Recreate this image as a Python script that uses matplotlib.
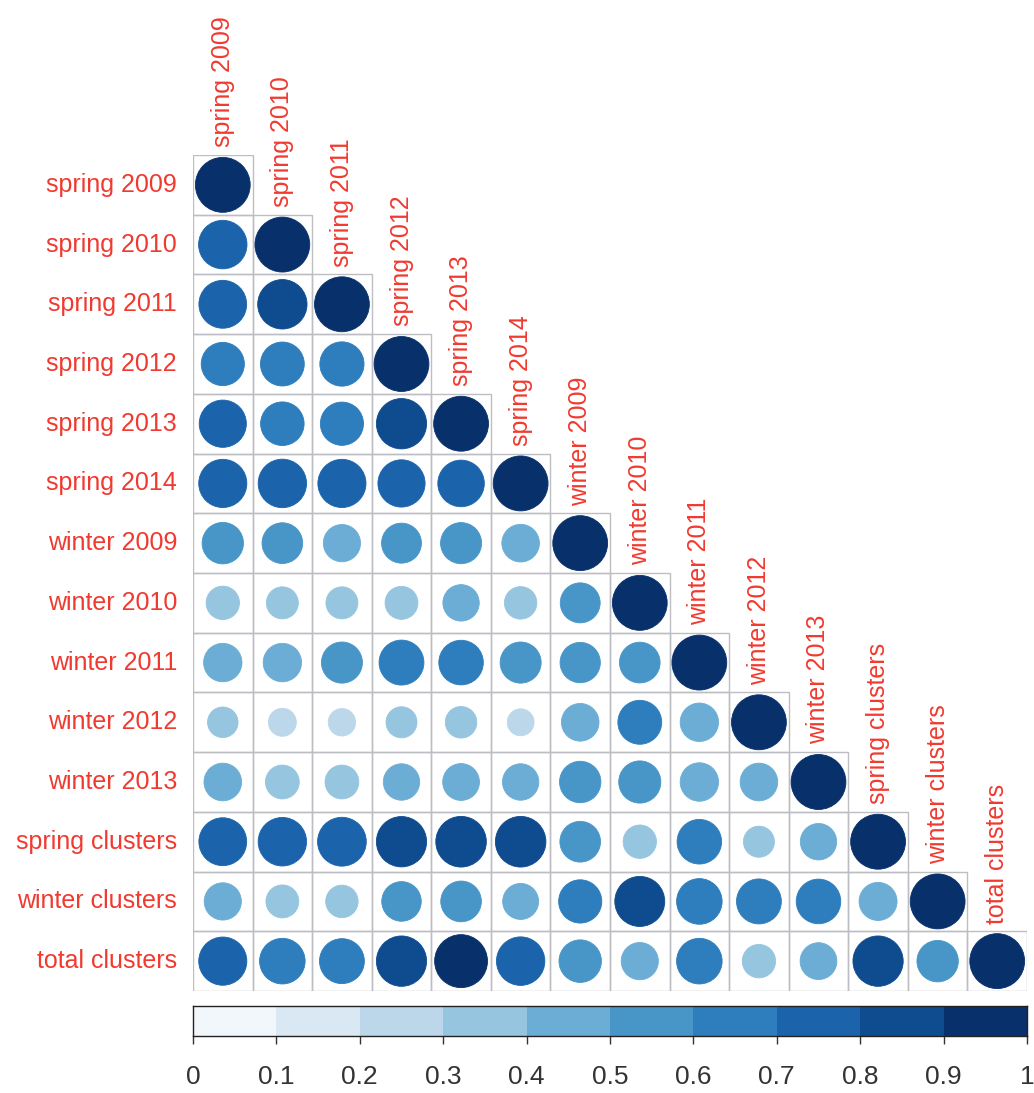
import numpy as np
import matplotlib
matplotlib.use("Agg")
import matplotlib.pyplot as plt
from matplotlib.patches import Circle, Rectangle
from matplotlib.colors import ListedColormap, BoundaryNorm

# Variables (same order for rows and columns)
labels = ["spring 2009", "spring 2010", "spring 2011", "spring 2012",
          "spring 2013", "spring 2014", "winter 2009", "winter 2010",
          "winter 2011", "winter 2012", "winter 2013", "spring clusters",
          "winter clusters", "total clusters"]

# Lower-triangle correlations, one list per row (diagonal included)
r_spring_2009 = [1.00]
r_spring_2010 = [0.78, 1.00]
r_spring_2011 = [0.76, 0.81, 1.00]
r_spring_2012 = [0.62, 0.64, 0.65, 1.00]
r_spring_2013 = [0.74, 0.63, 0.62, 0.84, 1.00]
r_spring_2014 = [0.77, 0.78, 0.77, 0.74, 0.72, 1.00]
r_winter_2009 = [0.57, 0.55, 0.46, 0.53, 0.56, 0.47, 1.00]
r_winter_2010 = [0.37, 0.34, 0.34, 0.36, 0.44, 0.35, 0.53, 1.00]
r_winter_2011 = [0.49, 0.49, 0.56, 0.67, 0.66, 0.56, 0.54, 0.55, 1.00]
r_winter_2012 = [0.31, 0.26, 0.25, 0.32, 0.33, 0.24, 0.47, 0.64, 0.49, 1.00]
r_winter_2013 = [0.47, 0.38, 0.38, 0.44, 0.45, 0.44, 0.57, 0.59, 0.49, 0.47, 1.00]
r_spring_clusters = [0.76, 0.78, 0.79, 0.84, 0.85, 0.85, 0.55, 0.37, 0.66, 0.32, 0.44, 1.00]
r_winter_clusters = [0.46, 0.36, 0.35, 0.52, 0.55, 0.43, 0.62, 0.83, 0.69, 0.67, 0.66, 0.48, 1.00]
r_total_clusters = [0.77, 0.69, 0.67, 0.84, 0.93, 0.78, 0.60, 0.46, 0.69, 0.37, 0.45, 0.84, 0.57, 1.00]

rows = [r_spring_2009, r_spring_2010, r_spring_2011, r_spring_2012,
        r_spring_2013, r_spring_2014, r_winter_2009, r_winter_2010,
        r_winter_2011, r_winter_2012, r_winter_2013, r_spring_clusters,
        r_winter_clusters, r_total_clusters]

cbar_ticks = [0, 0.1, 0.2, 0.3, 0.4, 0.5, 0.6, 0.7, 0.8, 0.9, 1]
cbar_ticklabels = ["0", "0.1", "0.2", "0.3", "0.4", "0.5", "0.6", "0.7", "0.8", "0.9", "1"]

# Ten-step blue palette, one colour per 0.1 interval
palette = ["#f2f7fb", "#d9e8f3", "#bcd7ea", "#96c5e0", "#6badd5",
           "#4896c8", "#2e7dbc", "#1b64ab", "#0e4b8f", "#08306b"]
cmap = ListedColormap(palette)
bounds = np.linspace(0, 1, len(palette) + 1)
norm = BoundaryNorm(bounds, cmap.N)

plt.rcParams["font.family"] = ["Liberation Sans", "DejaVu Sans"]

W, H = 1034, 1093
fig = plt.figure(figsize=(W / 100, H / 100), dpi=100)
fig.patch.set_facecolor("white")

n = len(labels)
gx0, gx1, gy0, gy1 = 193, 1027, 155, 991
ax = fig.add_axes([gx0 / W, 1 - gy1 / H, (gx1 - gx0) / W, (gy1 - gy0) / H])
ax.set_xlim(0, n)
ax.set_ylim(n, 0)
ax.axis("off")

grid_col = "#bdbdc4"
for i, row in enumerate(rows):
    for j, v in enumerate(row):
        ax.add_patch(Rectangle((j, i), 1, 1, facecolor="none",
                               edgecolor=grid_col, lw=1.0, zorder=1))
        col = cmap(norm(min(v, 0.9999)))
        ax.add_patch(Circle((j + 0.5, i + 0.5), 0.46 * np.sqrt(abs(v)),
                            facecolor=col, edgecolor=col, lw=0.6, zorder=2))

label_col = "#f03a30"
for i, name in enumerate(labels):
    ax.text(-0.27, i + 0.5, name, ha="right", va="center",
            fontsize=18, color=label_col, clip_on=False)
    ax.text(i + 0.5, i - 0.13, name, ha="center", va="bottom",
            rotation=90, fontsize=18, color=label_col, clip_on=False)

# Colour legend
cax = fig.add_axes([gx0 / W, 1 - 1036 / H, (gx1 - gx0) / W, 30 / H])
cax.pcolormesh(bounds, [0, 1], (bounds[:-1] + 0.05)[None, :], cmap=cmap, norm=norm)
cax.set_xlim(0, 1)
cax.set_ylim(0, 1)
cax.set_yticks([])
cax.set_xticks(cbar_ticks)
cax.set_xticklabels(cbar_ticklabels, fontsize=19, color="#333333")
cax.tick_params(axis="x", direction="out", length=6, width=1.0, pad=15, color="#333333")
for s in cax.spines.values():
    s.set_color("#222222")
    s.set_linewidth(1.0)

fig.savefig("out.png", dpi=100, facecolor="white")
